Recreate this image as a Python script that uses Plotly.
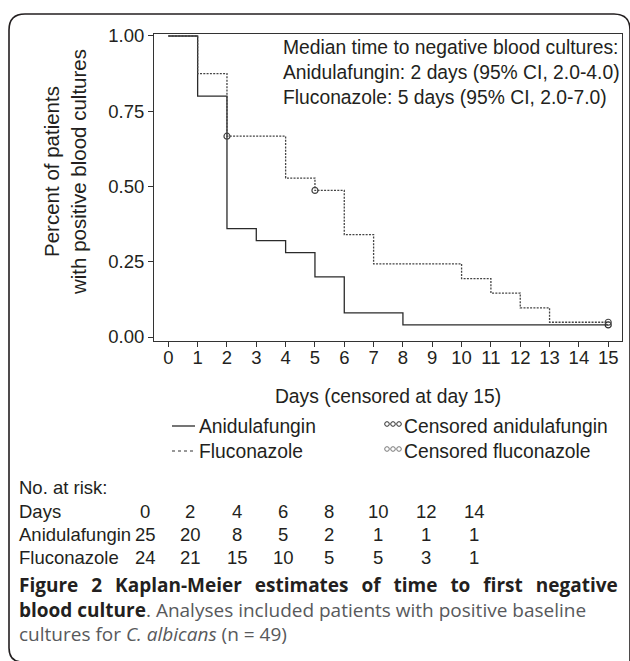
import plotly.graph_objects as go

# ---------------- data ----------------
anid_days = [0, 1, 2, 3, 4, 5, 6, 8, 15]
anid_surv = [1.00, 0.80, 0.36, 0.32, 0.28, 0.20, 0.08, 0.04, 0.04]
fluc_days = [0, 1, 2, 4, 5, 6, 7, 10, 11, 12, 13, 15]
fluc_surv = [1.00, 0.875, 0.667, 0.528, 0.487, 0.340, 0.243, 0.194, 0.146, 0.097, 0.049, 0.049]
anid_cens_days = [15]
anid_cens_surv = [0.04]
fluc_cens_days = [2, 5, 15]
fluc_cens_surv = [0.667, 0.487, 0.049]

x_ticks = list(range(0, 16))
y_ticks = [0.0, 0.25, 0.5, 0.75, 1.0]

risk_days = [0, 2, 4, 6, 8, 10, 12, 14]
risk_anid = [25, 20, 8, 5, 2, 1, 1, 1]
risk_fluc = [24, 21, 15, 10, 5, 5, 3, 1]

annot_lines = [
    "Median time to negative blood cultures:",
    "Anidulafungin: 2 days (95% CI, 2.0-4.0)",
    "Fluconazole: 5 days (95% CI, 2.0-7.0)",
]

# ---------------- layout helpers ----------------
W, H = 630, 661
L, R, T, B = 154, 8, 34, 320
PW, PH = W - L - R, H - T - B


def X(px):
    return (px - L) / PW


def Y(py):
    return (H - B - py) / PH


FONT = "Liberation Sans, Arial, Helvetica, sans-serif"
CAPFONT = "Open Sans, Noto Sans, sans-serif"
INK = "#231f20"
GREY = "#58595b"

fig = go.Figure()

fig.add_trace(go.Scatter(x=anid_days, y=anid_surv, mode="lines", line_shape="hv",
                         line=dict(color="#2b2b2b", width=1.3), name="Anidulafungin",
                         showlegend=False))
fig.add_trace(go.Scatter(x=fluc_days, y=fluc_surv, mode="lines", line_shape="hv",
                         line=dict(color="#444444", width=1.3, dash="2px,1.3px"),
                         name="Fluconazole", showlegend=False))
fig.add_trace(go.Scatter(x=anid_cens_days, y=anid_cens_surv, mode="markers",
                         marker=dict(symbol="circle-open", size=6, color="#2b2b2b",
                                     line=dict(width=1.2)),
                         name="Censored anidulafungin", showlegend=False))
fig.add_trace(go.Scatter(x=fluc_cens_days, y=fluc_cens_surv, mode="markers",
                         marker=dict(symbol="circle-open", size=6, color="#444444",
                                     line=dict(width=1.2)),
                         name="Censored fluconazole", showlegend=False))

fig.update_layout(
    width=W, height=H,
    margin=dict(l=L, r=R, t=T, b=B, pad=0),
    paper_bgcolor="white", plot_bgcolor="white",
    font=dict(family=FONT, color=INK, size=18),
    xaxis=dict(range=[-0.488, 15.47], tickvals=x_ticks, ticks="outside", ticklen=5,
               tickwidth=1, tickcolor="#333", showline=True, linecolor="#333",
               linewidth=1, mirror=True, showgrid=False, zeroline=False,
               tickfont=dict(size=18.5), ticklabelstandoff=-5,
               title=dict(text="Days (censored at day 15)", font=dict(size=19.3),
                          standoff=22)),
    yaxis=dict(range=[-0.0133, 1.0066], tickvals=y_ticks, tickformat=".2f",
               ticks="outside", ticklen=5, tickwidth=1, tickcolor="#333",
               showline=True, linecolor="#333", linewidth=1, mirror=True,
               showgrid=False, zeroline=False, tickfont=dict(size=18.5)),
)

# y-axis title (two lines)
fig.add_annotation(x=X(65), y=Y(172), xref="paper", yref="paper",
                   text="Percent of patients<br>with positive blood cultures",
                   textangle=-90, showarrow=False, font=dict(size=20.5),
                   xanchor="center", yanchor="middle", align="center")

# median annotation
fig.add_annotation(x=X(281), y=Y(35), xref="paper", yref="paper",
                   text="<br>".join(annot_lines), showarrow=False,
                   xanchor="left", yanchor="top", align="left",
                   font=dict(size=19.3))

# custom legend
leg_rows = [(426, "Anidulafungin", "Censored anidulafungin", None, "#2b2b2b"),
            (451, "Fluconazole", "Censored fluconazole", "dot", "#777777")]
for yy, lab, clab, dash, col in leg_rows:
    fig.add_shape(type="line", xref="paper", yref="paper",
                  x0=X(172), x1=X(195), y0=Y(yy), y1=Y(yy),
                  line=dict(color=col, width=1.3, dash=dash))
    fig.add_annotation(x=X(197), y=Y(yy), xref="paper", yref="paper", text=lab,
                       showarrow=False, xanchor="left", yanchor="middle",
                       font=dict(size=19.3))
    for cx in (387, 393, 399):
        fig.add_shape(type="circle", xref="paper", yref="paper",
                      x0=X(cx - 2.3), x1=X(cx + 2.3), y0=Y(yy - 4.3), y1=Y(yy + 0.3),
                      line=dict(color=col, width=1))
    fig.add_annotation(x=X(402), y=Y(yy), xref="paper", yref="paper", text=clab,
                       showarrow=False, xanchor="left", yanchor="middle",
                       font=dict(size=19.3))

# number at risk table
fig.add_annotation(x=X(17), y=Y(487), xref="paper", yref="paper", text="No. at risk:",
                   showarrow=False, xanchor="left", yanchor="middle", font=dict(size=18.5))
col_px = [145, 190, 237, 283, 329, 378, 426, 474]
rows = [(511, "Days", risk_days), (534, "Anidulafungin", risk_anid),
        (557, "Fluconazole", risk_fluc)]
for yy, lab, vals in rows:
    fig.add_annotation(x=X(17), y=Y(yy), xref="paper", yref="paper", text=lab,
                       showarrow=False, xanchor="left", yanchor="middle",
                       font=dict(size=18.5))
    for cx, v in zip(col_px, vals):
        fig.add_annotation(x=X(cx), y=Y(yy), xref="paper", yref="paper", text=str(v),
                           showarrow=False, xanchor="center", yanchor="middle",
                           font=dict(size=18.5))

# caption
cap = [
    (585, "<b><span style='word-spacing:8px'>Figure 2 Kaplan-Meier estimates of time to first negative</span></b>"),
    (610, "<b>blood culture</b><span style='color:" + GREY + "'>. Analyses included patients with positive baseline</span>"),
    (634, "<span style='color:" + GREY + "'>cultures for <i>C. albicans</i> (n = 49)</span>"),
]
for yy, txt in cap:
    fig.add_annotation(x=X(17), y=Y(yy), xref="paper", yref="paper", text=txt,
                       showarrow=False, xanchor="left", yanchor="middle",
                       font=dict(size=19, family=CAPFONT, color=INK))

# rounded outer frame
def P(x, y):
    return f"{X(x):.5f},{Y(y):.5f}"


path = (f"M {P(9, 648)} Q {P(9, 662)} {P(23, 662)} M {P(9, 648)} L {P(9, 30)} "
        f"Q {P(9, 14)} {P(25, 14)} L {P(614, 14)} Q {P(630, 14)} {P(630, 30)} L {P(630, 680)}")
fig.add_shape(type="path", path=path, xref="paper", yref="paper",
              line=dict(color=INK, width=1.6))

fig.write_html("out.html", config={"displayModeBar": False},
               post_script="document.body.style.margin='0px';")
